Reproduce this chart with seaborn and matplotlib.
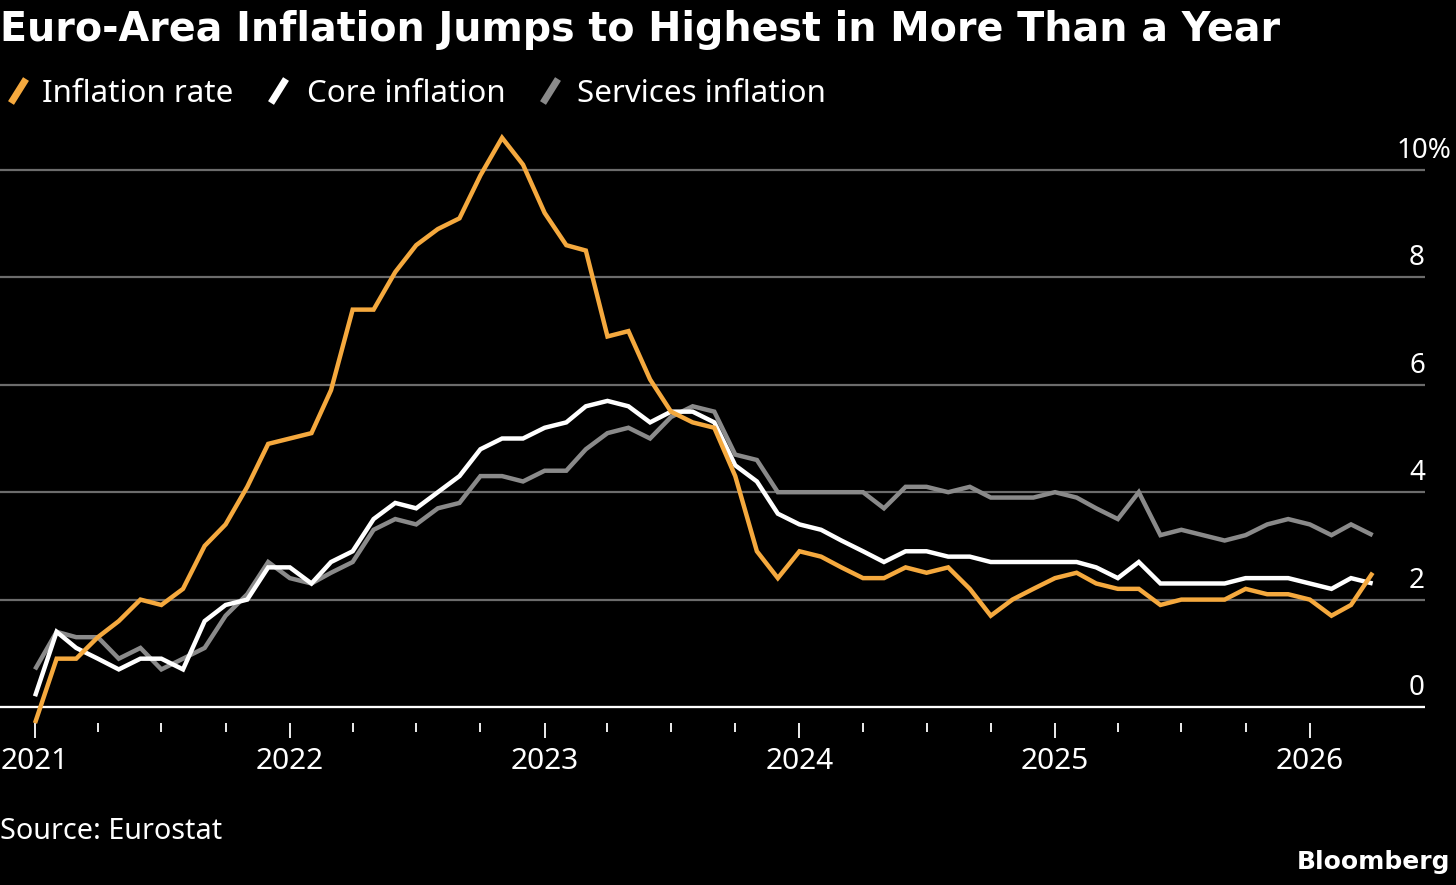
import numpy as np
import pandas as pd
import matplotlib
matplotlib.use("Agg")
import matplotlib.pyplot as plt
import matplotlib.dates as mdates
from matplotlib.lines import Line2D
from matplotlib.transforms import ScaledTranslation
import seaborn as sns

# ---------------- data (monthly, Dec 2020 - Mar 2026) ----------------
months = pd.period_range("2020-12", "2026-03", freq="M")

inflation_rate = [
    -0.3,
    0.9, 0.9, 1.3, 1.6, 2.0, 1.9, 2.2, 3.0, 3.4, 4.1, 4.9, 5.0,
    5.1, 5.9, 7.4, 7.4, 8.1, 8.6, 8.9, 9.1, 9.9, 10.6, 10.1, 9.2,
    8.6, 8.5, 6.9, 7.0, 6.1, 5.5, 5.3, 5.2, 4.3, 2.9, 2.4, 2.9,
    2.8, 2.6, 2.4, 2.4, 2.6, 2.5, 2.6, 2.2, 1.7, 2.0, 2.2, 2.4,
    2.5, 2.3, 2.2, 2.2, 1.9, 2.0, 2.0, 2.0, 2.2, 2.1, 2.1, 2.0,
    1.7, 1.9, 2.5,
]
core_inflation = [
    0.2,
    1.4, 1.1, 0.9, 0.7, 0.9, 0.9, 0.7, 1.6, 1.9, 2.0, 2.6, 2.6,
    2.3, 2.7, 2.9, 3.5, 3.8, 3.7, 4.0, 4.3, 4.8, 5.0, 5.0, 5.2,
    5.3, 5.6, 5.7, 5.6, 5.3, 5.5, 5.5, 5.3, 4.5, 4.2, 3.6, 3.4,
    3.3, 3.1, 2.9, 2.7, 2.9, 2.9, 2.8, 2.8, 2.7, 2.7, 2.7, 2.7,
    2.7, 2.6, 2.4, 2.7, 2.3, 2.3, 2.3, 2.3, 2.4, 2.4, 2.4, 2.3,
    2.2, 2.4, 2.3,
]
services_inflation = [
    0.7,
    1.4, 1.3, 1.3, 0.9, 1.1, 0.7, 0.9, 1.1, 1.7, 2.1, 2.7, 2.4,
    2.3, 2.5, 2.7, 3.3, 3.5, 3.4, 3.7, 3.8, 4.3, 4.3, 4.2, 4.4,
    4.4, 4.8, 5.1, 5.2, 5.0, 5.4, 5.6, 5.5, 4.7, 4.6, 4.0, 4.0,
    4.0, 4.0, 4.0, 3.7, 4.1, 4.1, 4.0, 4.1, 3.9, 3.9, 3.9, 4.0,
    3.9, 3.7, 3.5, 4.0, 3.2, 3.3, 3.2, 3.1, 3.2, 3.4, 3.5, 3.4,
    3.2, 3.4, 3.2,
]

series_names = ["Inflation rate", "Core inflation", "Services inflation"]
series_colors = ["#F5A93E", "#FFFFFF", "#8A8A8A"]

year_ticks = pd.to_datetime(["2021-01-01", "2022-01-01", "2023-01-01",
                             "2024-01-01", "2025-01-01", "2026-01-01"])
quarter_ticks = pd.date_range("2021-04-01", "2025-10-01", freq="QS-JAN")
quarter_ticks = quarter_ticks[quarter_ticks.month != 1]

ytick_values = [0, 2, 4, 6, 8, 10]
ytick_labels = ["0", "2", "4", "6", "8", "10%"]

title = "Euro-Area Inflation Jumps to Highest in More Than a Year"
source = "Source: Eurostat"
brand = "Bloomberg"

# ---------------- figure ----------------
W, H = 1456, 885
sns.set_style("dark")
plt.rcParams["font.family"] = ["Noto Sans", "DejaVu Sans"]
fig = plt.figure(figsize=(W / 100, H / 100), dpi=100, facecolor="black")

# pixel geometry (from top-left)
ax_left_px, ax_right_px = 0, 1425
ax_bottom_px, ax_top_px = 723, 120
y0_px, y10_px = 707, 170
ppu = (y0_px - y10_px) / 10.0
ylim = (-(ax_bottom_px - y0_px) / ppu, 10 + (y10_px - ax_top_px) / ppu)

ax = fig.add_axes([ax_left_px / W, (H - ax_bottom_px) / H,
                   (ax_right_px - ax_left_px) / W, (ax_bottom_px - ax_top_px) / H])
ax.set_facecolor("black")

df = pd.DataFrame({
    "date": months.to_timestamp(how="end"),
    "Inflation rate": inflation_rate,
    "Core inflation": core_inflation,
    "Services inflation": services_inflation,
})

# draw services first, then core, then headline on top
for name, color, z in zip(series_names[::-1], series_colors[::-1], [3, 4, 5]):
    sns.lineplot(data=df, x="date", y=name, color=color, linewidth=3.2,
                 ax=ax, zorder=z, clip_on=False, solid_joinstyle="miter",
                 solid_capstyle="butt")

# x scale
t2021 = mdates.date2num(pd.Timestamp("2021-01-01"))
px_per_year = 255.0
ax.set_xlim(t2021 - 35 / px_per_year * 365.25,
            t2021 + (ax_right_px - 35) / px_per_year * 365.25)
ax.set_ylim(*ylim)

ax.set_xticks(year_ticks)
ax.set_xticklabels([str(d.year) for d in year_ticks])
ax.set_xticks(quarter_ticks, minor=True)
ax.tick_params(axis="x", which="both", bottom=True, top=False)
ax.tick_params(axis="x", which="major", direction="out", length=11, width=1.3,
               color="white", labelcolor="white", labelsize=21.5, pad=6)
ax.tick_params(axis="x", which="minor", direction="out", length=6.5, width=1.3,
               color="white")
ax.set_xlabel("")
ax.set_ylabel("")

ax.set_yticks(ytick_values)
ax.tick_params(axis="y", left=False, right=False, labelleft=False, labelright=False)
ax.grid(False)
ax.yaxis.grid(True, color="#6c6c6c", linewidth=1.6, zorder=1)
ax.axhline(0, color="white", linewidth=1.6, zorder=2)
for s in ax.spines.values():
    s.set_visible(False)

# y labels (inside, above gridlines, right side)
ytrans = ax.get_yaxis_transform()
for v, lab in zip(ytick_values, ytick_labels):
    dx = 26 / 100 if lab.endswith("%") else 0
    ax.text(1.0, v, lab,
            transform=ytrans + ScaledTranslation(dx, 12 / 100, fig.dpi_scale_trans),
            ha="right", va="baseline", color="white", fontsize=20)

# title
fig.text(0 / W, 1 - 41 / H, title, color="white", fontsize=28.5, fontweight="bold",
         family=["DejaVu Sans"], ha="left", va="baseline")

# legend (manual)
leg_y = 91
leg_items = [(8, 42), (268, 307), (540, 577)]
for (sx, tx), name, color in zip(leg_items, series_names, series_colors):
    fig.add_artist(Line2D([(sx + 3) / W, (sx + 18) / W],
                          [1 - (leg_y + 12) / H, 1 - (leg_y - 12) / H],
                          transform=fig.transFigure, color=color, linewidth=5,
                          solid_capstyle="butt"))
    fig.text(tx / W, 1 - leg_y / H, name, color="white", fontsize=22.5,
             ha="left", va="center_baseline")

# source and brand
fig.text(0, 1 - 828 / H, source, color="white", fontsize=20.7, ha="left",
         va="center_baseline")
fig.text(1450 / W, 1 - 860 / H, brand, color="white", fontsize=18,
         fontweight="bold", family=["DejaVu Sans"], ha="right", va="center_baseline")

fig.savefig("out.png", dpi=100, facecolor="black")
